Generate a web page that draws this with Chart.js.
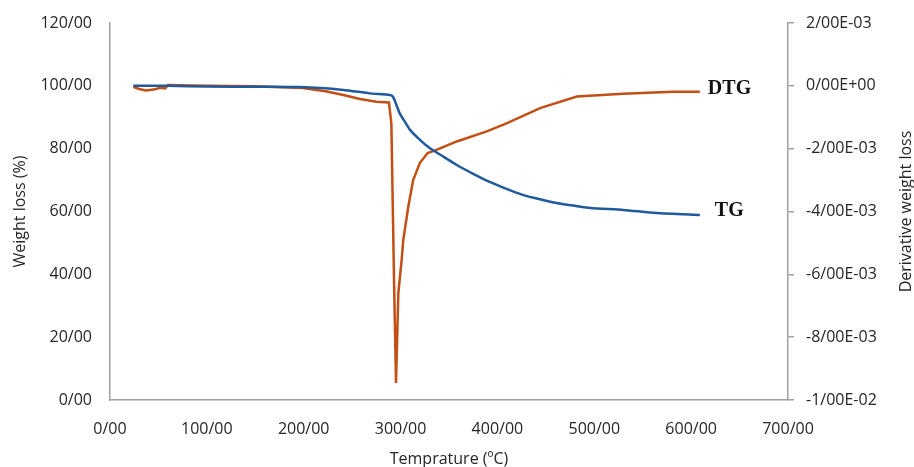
<!DOCTYPE html>
<html>
<head>
<meta charset="utf-8">
<script src="https://cdn.jsdelivr.net/npm/chart.js@4/dist/chart.umd.min.js"></script>
<style>
  html, body { margin: 0; padding: 0; background: #fff; }
  #wrap { width: 914px; height: 467px; position: relative; }
</style>
</head>
<body>
<div id="wrap"><canvas id="tgChart"></canvas></div>
<script>
// ---- data ----
const tgTemp = [24, 60, 100, 150, 196, 241, 268, 289, 292, 295, 299, 305, 310, 320, 330, 345, 358, 375, 392, 410, 427, 445, 461, 480, 496, 530, 564, 609];
const tgWeight = [100, 100, 99.8, 99.7, 99.6, 98.7, 97.6, 97.1, 96.6, 94.5, 91.3, 88.3, 85.9, 82.8, 80.2, 77.3, 74.8, 72.0, 69.4, 67.1, 65.2, 63.8, 62.7, 61.8, 61.1, 60.5, 59.5, 58.9];

const dtgTemp = [24, 30, 37, 45, 52, 57, 60, 100, 150, 199, 224, 241, 258, 275, 288, 290.5, 293.2, 295.3, 297.7, 301.1, 302.8, 308, 313, 320, 328, 337, 358, 389, 410, 444, 482, 530, 581, 609];
const dtgRate = [-0.00003, -0.0001, -0.00015, -0.00012, -0.00006, -0.00008, 0.00003, 0, -0.00001, -0.00007, -0.00018, -0.00029, -0.00042, -0.00051, -0.00053, -0.0012, -0.0061, -0.00946, -0.0066, -0.00554, -0.0049, -0.00384, -0.003, -0.00245, -0.00214, -0.00204, -0.00177, -0.00145, -0.00119, -0.00071, -0.00034, -0.00025, -0.00019, -0.00019];

const xTicks = [0, 100, 200, 300, 400, 500, 600, 700];
const xTickLabels = ['0/00', '100/00', '200/00', '300/00', '400/00', '500/00', '600/00', '700/00'];
const yTicks = [0, 20, 40, 60, 80, 100, 120];
const yTickLabels = ['0/00', '20/00', '40/00', '60/00', '80/00', '100/00', '120/00'];
const y1Ticks = [-0.01, -0.008, -0.006, -0.004, -0.002, 0, 0.002];
const y1TickLabels = ['-1/00E-02', '-8/00E-03', '-6/00E-03', '-4/00E-03', '-2/00E-03', '0/00E+00', '2/00E-03'];

const seriesNames = ['TG', 'DTG'];
const rightTitle = 'Derivative weight loss';

const toPoints = (xs, ys) => xs.map((x, i) => ({ x: x, y: ys[i] }));
const fixedTicks = (vals) => (scale) => { scale.ticks = vals.map(v => ({ value: v })); };

const AXIS_GREY = '#a0a0a0';
const TEXT = '#262626';
const tickFont = { family: 'Open Sans', size: 16 };

// series names next to the line ends + right axis title (reads bottom to top)
const extraText = {
  id: 'extraText',
  afterDatasetsDraw(chart) {
    const ctx = chart.ctx;
    ctx.save();
    ctx.fillStyle = '#111';
    ctx.font = 'bold 20px "Liberation Serif"';
    ctx.textBaseline = 'middle';
    ctx.textAlign = 'left';
    const offs = { TG: [15, -4], DTG: [8, -3] };
    chart.data.datasets.forEach((ds, i) => {
      const pts = chart.getDatasetMeta(i).data;
      const last = pts[pts.length - 1];
      const o = offs[ds.label];
      ctx.fillText(ds.label, last.x + o[0], last.y + o[1]);
    });

    const area = chart.chartArea;
    ctx.translate(chart.width - 8, (area.top + area.bottom) / 2);
    ctx.rotate(-Math.PI / 2);
    ctx.fillStyle = TEXT;
    ctx.font = '16px "Open Sans"';
    ctx.textAlign = 'center';
    ctx.fillText(rightTitle, 0, 0);
    ctx.restore();
  }
};

new Chart(document.getElementById('tgChart'), {
  type: 'scatter',
  data: {
    datasets: [
      {
        label: seriesNames[0],
        data: toPoints(tgTemp, tgWeight),
        yAxisID: 'y',
        showLine: true,
        borderColor: '#1f5a9c',
        borderWidth: 2.5,
        pointRadius: 0,
        tension: 0.2
      },
      {
        label: seriesNames[1],
        data: toPoints(dtgTemp, dtgRate),
        yAxisID: 'y1',
        showLine: true,
        borderColor: '#c24f14',
        borderWidth: 2.5,
        pointRadius: 0,
        tension: 0
      }
    ]
  },
  options: {
    responsive: true,
    maintainAspectRatio: false,
    animation: false,
    layout: { padding: { top: 23, left: 0, right: 0, bottom: 0 } },
    plugins: {
      legend: { display: false },
      tooltip: { enabled: false }
    },
    scales: {
      x: {
        type: 'linear',
        min: 0, max: 700,
        afterBuildTicks: fixedTicks(xTicks),
        afterFit: (s) => { s.height = 67; },
        grid: { display: false },
        border: { color: AXIS_GREY, width: 1.5 },
        ticks: {
          color: TEXT, font: tickFont, padding: 12, maxRotation: 0,
          callback: (v, i) => xTickLabels[i]
        },
        title: {
          display: true, text: 'Temprature (ºC)', color: TEXT,
          font: { family: 'Open Sans', size: 16, lineHeight: 1 }, padding: { top: 0, bottom: 0 }
        }
      },
      y: {
        position: 'left',
        min: 0, max: 120,
        afterBuildTicks: fixedTicks(yTicks),
        afterFit: (s) => { s.width = 110; },
        // ticks hidden; tickLength only pushes the labels off the axis
        grid: { display: false, drawTicks: true, tickLength: 14 },
        border: { color: AXIS_GREY, width: 1.5 },
        ticks: {
          color: TEXT, font: tickFont, padding: 4,
          callback: (v, i) => yTickLabels[i]
        },
        title: {
          display: true, text: 'Weight loss (%)', color: TEXT,
          font: { family: 'Open Sans', size: 16 }, padding: { top: 11, bottom: 0 }
        }
      },
      y1: {
        position: 'right',
        min: -0.01, max: 0.002,
        afterBuildTicks: fixedTicks(y1Ticks),
        afterFit: (s) => { s.width = 126; },
        grid: { display: true, drawOnChartArea: false, drawTicks: true, tickLength: 6, color: AXIS_GREY, lineWidth: 1.5 },
        border: { color: AXIS_GREY, width: 1.5 },
        ticks: {
          color: TEXT, font: tickFont, padding: 12,
          callback: (v, i) => y1TickLabels[i]
        }
      }
    }
  },
  plugins: [extraText]
});
</script>
</body>
</html>
